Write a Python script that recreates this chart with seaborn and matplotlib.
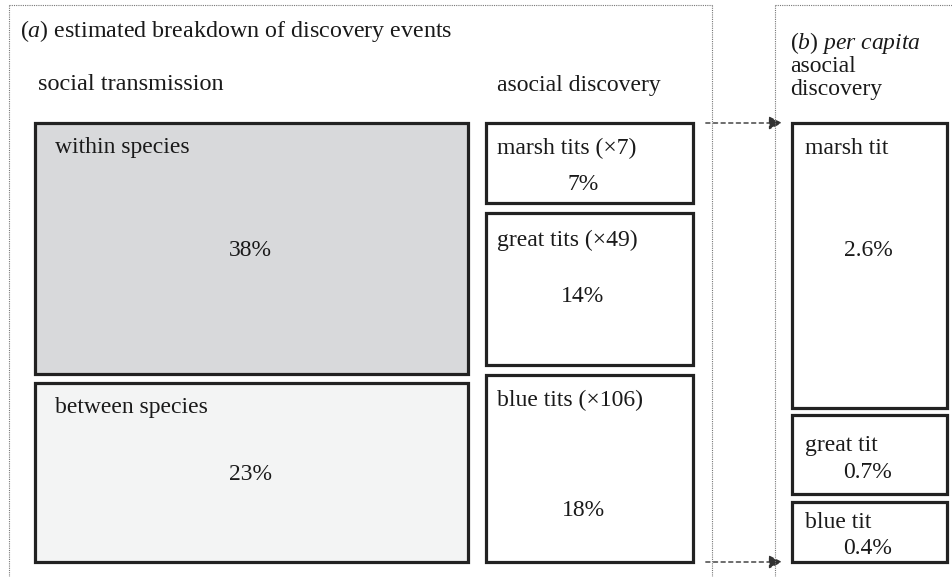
import matplotlib
matplotlib.use("Agg")
import matplotlib.pyplot as plt
from matplotlib.patches import Rectangle, FancyArrowPatch
import seaborn as sns

# ---- data -------------------------------------------------------------
social_labels = ["within species", "between species"]
social_pct = [38, 23]

asocial_labels = ["marsh tits (\u00d77)", "great tits (\u00d749)", "blue tits (\u00d7106)"]
asocial_pct = [7, 14, 18]

percapita_labels = ["marsh tit", "great tit", "blue tit"]
percapita_pct = [2.6, 0.7, 0.4]

# ---- layout (pixel space, y grows downward) ----------------------------
# box: (x0, y0, x1, y1, label_y, value_x, value_y)
social_boxes = [
    (35, 123, 468, 374, 148, 250, 250),
    (35, 383, 468, 562, 408, 250, 475),
]
asocial_boxes = [
    (486, 123, 693, 203, 148, 583, 185),
    (486, 213, 693, 365, 240, 583, 297),
    (486, 375, 693, 562, 400, 583, 510),
]
percapita_boxes = [
    (792, 123, 947, 408, 148, 868, 250),
    (792, 415, 947, 494, 445, 868, 473),
    (792, 502, 947, 562, 523, 868, 549),
]
social_fill = ["#d8d9db", "#f3f4f4"]

sns.set_theme(style="white")
plt.rcParams["font.family"] = ["Liberation Serif", "DejaVu Serif"]
plt.rcParams["mathtext.fontset"] = "custom"
plt.rcParams["mathtext.rm"] = "Liberation Serif"
plt.rcParams["mathtext.it"] = "Liberation Serif:italic"

W, H = 952, 577
fig = plt.figure(figsize=(W / 100, H / 100), dpi=100)
ax = fig.add_axes([0, 0, 1, 1])
ax.set_xlim(0, W)
ax.set_ylim(H, 0)
ax.axis("off")

FS = 17
TXT = "#1a1a1a"

# dotted panel frames
frame_kw = dict(color="#777777", lw=0.8, linestyle=(0, (1, 1)))
ax.plot([9, 9], [5, H], **frame_kw)
ax.plot([9, 712], [5, 5], **frame_kw)
ax.plot([712, 712], [5, H], **frame_kw)
ax.plot([775, 775], [5, H], **frame_kw)
ax.plot([775, W], [5, 5], **frame_kw)

# headings
ax.text(20, 31, r"($\mathit{a}$) estimated breakdown of discovery events",
        fontsize=FS + 0.3, color=TXT, va="center")
ax.text(38, 85, "social transmission", fontsize=FS + 0.5, color=TXT, va="center")
ax.text(497, 85, "asocial discovery", fontsize=FS, color=TXT, va="center")
ax.text(790, 43, r"($\mathit{b}$) $\mathit{per\ capita}$", fontsize=FS, color=TXT, va="center")
ax.text(790, 67, "asocial", fontsize=FS, color=TXT, va="center")
ax.text(790, 90, "discovery", fontsize=FS, color=TXT, va="center")


def draw_boxes(boxes, labels, values, fills, fmt, label_dx=11):
    for (x0, y0, x1, y1, ly, vx, vy), lab, val, fc in zip(boxes, labels, values, fills):
        ax.add_patch(Rectangle((x0, y0), x1 - x0, y1 - y0, facecolor=fc,
                               edgecolor="#222222", lw=2.3))
        ax.text(x0 + label_dx, ly, lab, fontsize=FS, color=TXT, va="center")
        ax.text(vx, vy, fmt.format(val), fontsize=FS, color=TXT,
                va="center", ha="center")


draw_boxes(social_boxes, social_labels, social_pct, social_fill, "{}%", label_dx=20)
draw_boxes(asocial_boxes, asocial_labels, asocial_pct, ["white"] * 3, "{}%")
draw_boxes(percapita_boxes, percapita_labels, percapita_pct, ["white"] * 3, "{}%", label_dx=13)

# dashed connector arrows
for y in (123, 562):
    ax.add_patch(FancyArrowPatch((703, y), (785, y), arrowstyle="-|>", mutation_scale=20,
                                 color="#333333", lw=1.0, linestyle=(0, (3, 2.5))))

fig.savefig("out.png", dpi=100)
